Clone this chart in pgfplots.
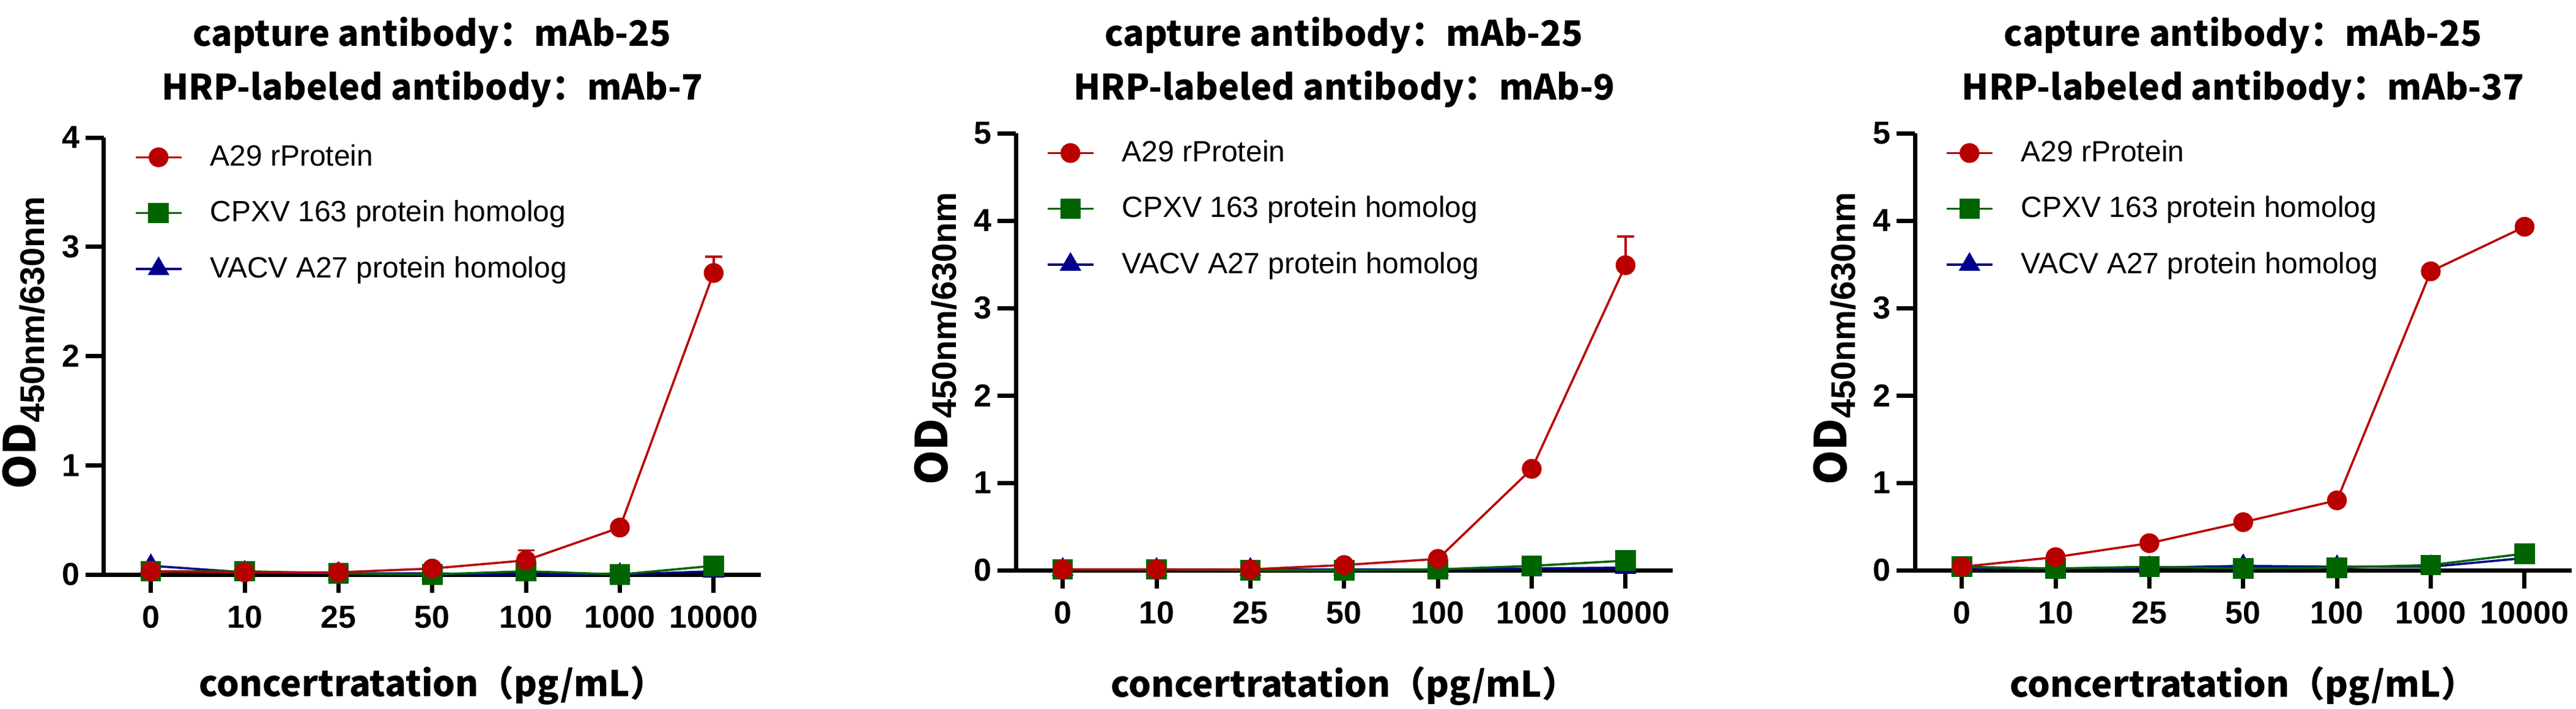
\documentclass[border=0pt]{standalone}
\usepackage{fontspec}
\setmainfont{Liberation Sans}
\newfontfamily\cjk{Noto Sans CJK SC}
\usepackage{pgfplots}
\pgfplotsset{compat=1.18}
\definecolor{cred}{RGB}{185,0,0}
\definecolor{cgreen}{RGB}{0,100,0}
\definecolor{cblue}{RGB}{0,0,140}
\newcommand\titlefont{\cjk\bfseries\fontsize{14.35}{22}\selectfont}
\newcommand\xlabfont{\cjk\bfseries\fontsize{14.5}{17}\selectfont}
\newcommand\odfont{\cjk\bfseries\fontsize{18}{21}\selectfont}
\newcommand\subfont{\rmfamily\bfseries\fontsize{14}{16}\selectfont}
\newcommand\tickfont{\bfseries\fontsize{13}{15}\selectfont}
\newcommand\legfont{\fontsize{12}{14}\selectfont}
\pgfplotsset{
  panel/.style={
    scale only axis, width=268.4pt, height=178.75pt,
    xmin=-0.5, xmax=6.5, ymin=0,
    axis lines=left, axis line style={line width=1.75pt,-},
    xtick={0,...,6}, xticklabels={0,10,25,50,100,1000,10000},
    tick align=outside, major tick length=7.5pt,
    every tick/.style={line width=1.75pt,black},
    /pgf/number format/assume math mode=true,
    ticklabel style={font=\tickfont},
    xticklabel style={inner sep=0pt,yshift=-5pt},
    yticklabel style={inner sep=0pt,xshift=-2.25pt},
    xlabel={concertratation（pg/mL）},
    ylabel={OD\raisebox{-3.5pt}{\subfont 450nm/630nm}},
    xlabel style={font=\xlabfont,inner sep=0pt,anchor=base},
    ylabel style={font=\odfont,inner sep=0pt,anchor=base,at={(axis description cs:-0.1043,0.53)}},
    title style={font=\titlefont,align=center,inner sep=0pt,anchor=south,yshift=0pt},
    clip=false,
    reverse legend,
    legend cell align=left,
    legend style={draw=none,fill=none,inner sep=0pt,outer sep=0pt,
      at={(axis description cs:0,1)},anchor=north west,xshift=12.5pt,yshift=-3pt,
      row sep=12.6pt,column sep=0pt,font=\legfont,nodes={inner sep=0pt}},
    legend image code/.code={\draw[mark repeat=2,mark phase=2,#1] plot coordinates {(0pt,0pt) (9.375pt,0pt) (18.75pt,0pt)};},
    error bars/error bar style={line width=0.9pt,color=cred},
    error bars/error mark options={line width=0.9pt,color=cred,mark size=3.4pt,rotate=90},
  },
  sblue/.style={color=cblue,line width=0.9pt,mark=triangle*,mark size=4.2pt,mark options={fill=cblue,draw=cblue}},
  sgreen/.style={color=cgreen,line width=0.9pt,mark=square*,mark size=3.75pt,mark options={fill=cgreen,draw=cgreen}},
  sred/.style={color=cred,line width=0.9pt,mark=*,mark size=3.6pt,mark options={fill=cred,draw=cred}},
}
\begin{document}
\begin{tikzpicture}
\useasboundingbox (0,0) rectangle (1053pt,289.75pt);
% Panel 1
\begin{axis}[panel, at={(42.5pt,54.75pt)}, anchor=south west,
  ymax=4, ytick={0,1,2,3,4},
  title={capture antibody：mAb-25\\HRP-labeled antibody：mAb-7},
  title style={at={(axis description cs:0.5,1.034)}},
  xlabel style={at={(axis description cs:0.5,-0.2797)}}]
\addplot[sblue] table {
x y
0 0.08
1 0.02
2 0.01
3 0.01
4 0.00
5 0.00
6 0.03
};
\addlegendentry{\hspace*{11.25pt}VACV A27 protein homolog}
\addplot[sgreen] table {
x y
0 0.03
1 0.03
2 0.01
3 0.00
4 0.03
5 0.00
6 0.08
};
\addlegendentry{\hspace*{11.25pt}CPXV 163 protein homolog}
\addplot[sred,error bars/.cd,y dir=plus,y explicit] table[x=x,y=y,y error=e] {
x y e
0 0.03 0
1 0.02 0
2 0.02 0
3 0.055 0
4 0.13 0.09
5 0.43 0
6 2.76 0.15
};
\addlegendentry{\hspace*{11.25pt}A29 rProtein}
\end{axis}
% Panel 2
\begin{axis}[panel, at={(415.25pt,56.5pt)}, anchor=south west,
  ymax=5, ytick={0,1,2,3,4,5},
  title={capture antibody：mAb-25\\HRP-labeled antibody：mAb-9},
  title style={at={(axis description cs:0.5,1.024)}},
  xlabel style={at={(axis description cs:0.5,-0.2895)}}]
\addplot[sblue] table {
x y
0 0.01
1 0.01
2 0.01
3 0.01
4 0.01
5 0.02
6 0.03
};
\addlegendentry{\hspace*{11.25pt}VACV A27 protein homolog}
\addplot[sgreen] table {
x y
0 0.01
1 0.01
2 0.00
3 0.00
4 0.01
5 0.05
6 0.11
};
\addlegendentry{\hspace*{11.25pt}CPXV 163 protein homolog}
\addplot[sred,error bars/.cd,y dir=plus,y explicit] table[x=x,y=y,y error=e] {
x y e
0 0.01 0
1 0.01 0
2 0.01 0
3 0.06 0
4 0.13 0
5 1.16 0
6 3.49 0.33
};
\addlegendentry{\hspace*{11.25pt}A29 rProtein}
\end{axis}
% Panel 3
\begin{axis}[panel, at={(782.75pt,56.5pt)}, anchor=south west,
  ymax=5, ytick={0,1,2,3,4,5},
  title={capture antibody：mAb-25\\HRP-labeled antibody：mAb-37},
  title style={at={(axis description cs:0.5,1.024)}},
  xlabel style={at={(axis description cs:0.5,-0.2895)}}]
\addplot[sblue] table {
x y
0 0.02
1 0.02
2 0.03
3 0.05
4 0.04
5 0.04
6 0.14
};
\addlegendentry{\hspace*{11.25pt}VACV A27 protein homolog}
\addplot[sgreen] table {
x y
0 0.04
1 0.02
2 0.04
3 0.02
4 0.03
5 0.06
6 0.19
};
\addlegendentry{\hspace*{11.25pt}CPXV 163 protein homolog}
\addplot[sred] table {
x y
0 0.04
1 0.15
2 0.31
3 0.55
4 0.80
5 3.42
6 3.93
};
\addlegendentry{\hspace*{11.25pt}A29 rProtein}
\end{axis}
\end{tikzpicture}
\end{document}
